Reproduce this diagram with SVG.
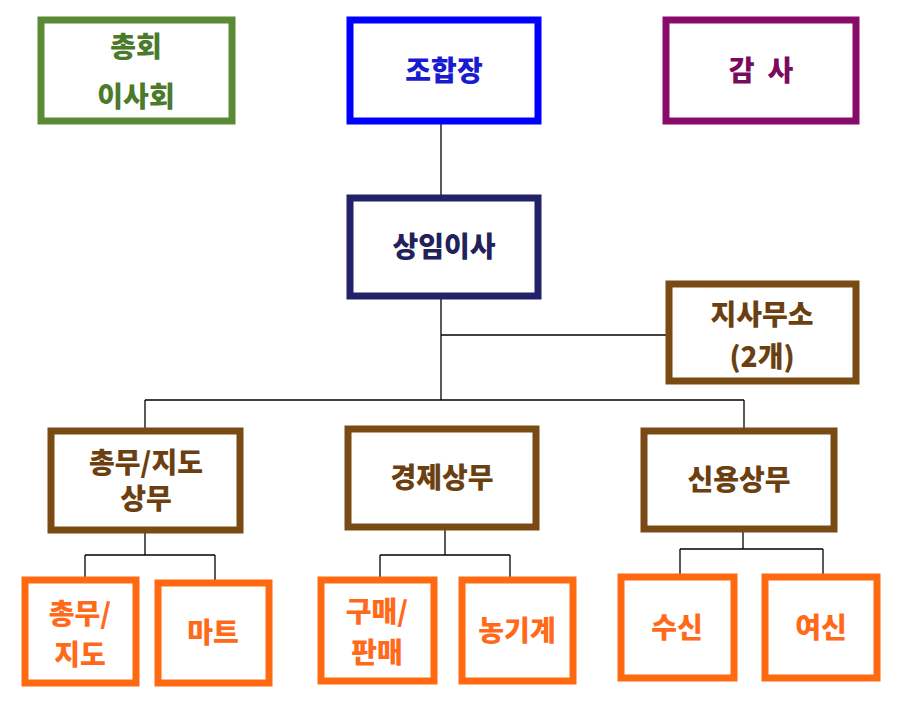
<svg xmlns="http://www.w3.org/2000/svg" width="909" height="701" viewBox="0 0 909 701">
<style>
rect{fill:#fff;stroke-width:7}
text{font-family:"Noto Sans CJK KR",sans-serif;font-weight:900;font-size:28px;text-anchor:middle}
.c line{stroke:#000;stroke-width:1.3}
.g rect{stroke:#5b8a34}.g text{fill:#4a7a2a}
.b rect{stroke:#0000ff}.b text{fill:#1a1ad0}
.p rect{stroke:#8a0a6a}.p text{fill:#7a0a5e}
.n rect{stroke:#22226a}.n text{fill:#22225a}
.br rect{stroke:#7a4a14}.br text{fill:#6b3f10}
.o rect{stroke:#ff6a10}.o text{fill:#ff6a1a}
</style>
<rect x="0" y="0" width="909" height="701" style="stroke:none"/>
<g class="c">
<line x1="441" y1="124" x2="441" y2="195"/>
<line x1="441" y1="299" x2="441" y2="400"/>
<line x1="441" y1="335" x2="666" y2="335"/>
<line x1="145" y1="400" x2="744" y2="400"/>
<line x1="145" y1="400" x2="145" y2="428"/>
<line x1="744" y1="400" x2="744" y2="428"/>
<line x1="145" y1="533" x2="145" y2="555"/>
<line x1="85" y1="555" x2="215" y2="555"/>
<line x1="85" y1="555" x2="85" y2="577"/>
<line x1="215" y1="555" x2="215" y2="580"/>
<line x1="445" y1="530" x2="445" y2="555"/>
<line x1="380" y1="555" x2="510" y2="555"/>
<line x1="380" y1="555" x2="380" y2="577"/>
<line x1="510" y1="555" x2="510" y2="577"/>
<line x1="743" y1="532" x2="743" y2="549"/>
<line x1="680" y1="549" x2="823" y2="549"/>
<line x1="680" y1="549" x2="680" y2="574"/>
<line x1="823" y1="549" x2="823" y2="574"/>
</g>
<g id="n1" class="g"><rect x="41" y="20" width="191" height="101"/><text x="136" y="57">총회</text><text x="136" y="107">이사회</text></g>
<g id="n2" class="b"><rect x="350" y="20" width="188" height="101"/><text x="444" y="81">조합장</text></g>
<g id="n3" class="p"><rect x="666" y="20" width="190" height="101"/><text x="761" y="81" xml:space="preserve">감  사</text></g>
<g id="n4" class="n"><rect x="350" y="198" width="188" height="98"/><text x="444" y="257">상임이사</text></g>
<g id="n5" class="br"><rect x="669" y="284" width="187" height="97"/><text x="762" y="325">지사무소</text><text x="762" y="367">(2개)</text></g>
<g id="n6" class="br"><rect x="51" y="431" width="189" height="99"/><text x="146" y="473">총무/지도</text><text x="146" y="509">상무</text></g>
<g id="n7" class="br"><rect x="348" y="429" width="188" height="98"/><text x="442" y="488">경제상무</text></g>
<g id="n8" class="br"><rect x="644" y="431" width="190" height="98"/><text x="739" y="490">신용상무</text></g>
<g id="n9" class="o"><rect x="25" y="580" width="111" height="103"/><text x="80" y="624">총무/</text><text x="80" y="665">지도</text></g>
<g id="n10" class="o"><rect x="158" y="583" width="111" height="100"/><text x="213" y="643">마트</text></g>
<g id="n11" class="o"><rect x="321" y="580" width="113" height="101"/><text x="377" y="622">구매/</text><text x="377" y="663">판매</text></g>
<g id="n12" class="o"><rect x="462" y="580" width="111" height="101"/><text x="517" y="641">농기계</text></g>
<g id="n13" class="o"><rect x="621" y="577" width="113" height="101"/><text x="677" y="638">수신</text></g>
<g id="n14" class="o"><rect x="765" y="577" width="112" height="101"/><text x="821" y="638">여신</text></g>
</svg>
